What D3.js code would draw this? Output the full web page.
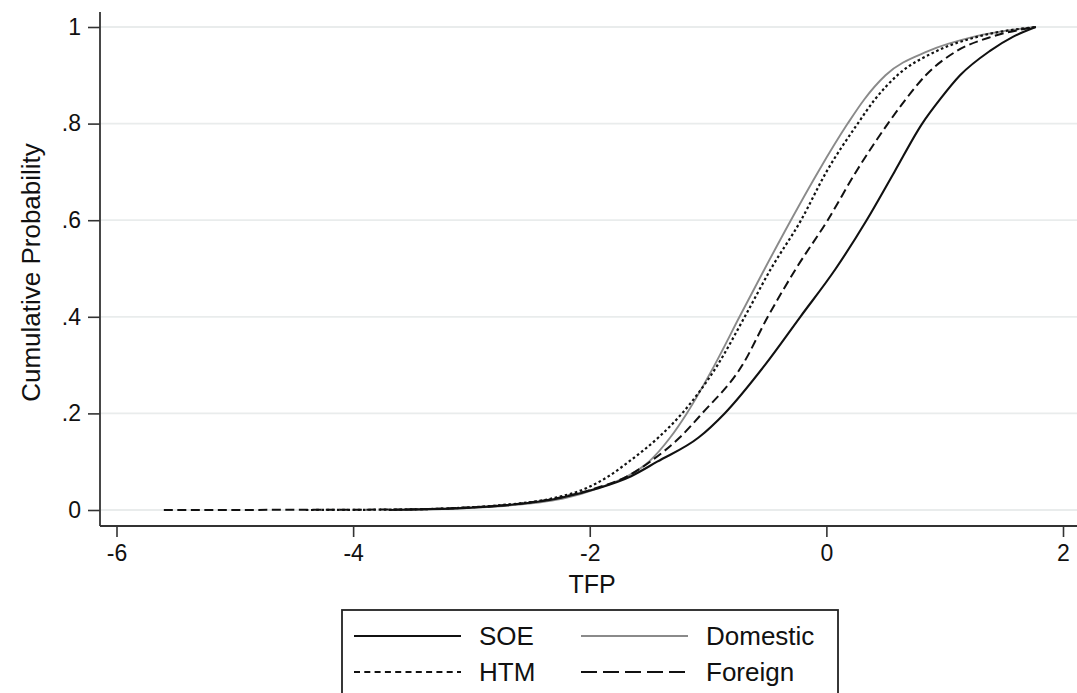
<!DOCTYPE html>
<html>
<head>
<meta charset="utf-8">
<script src="https://cdn.jsdelivr.net/npm/d3@7/dist/d3.min.js"></script>
<style>
  html, body { margin: 0; padding: 0; background: #fff; }
  svg { display: block; font-family: "Liberation Sans", Arial, sans-serif; }
</style>
</head>
<body>
<svg id="chart" width="1077" height="693"></svg>
<script>
// Shared cumulative-probability levels; each series lists its TFP quantile at each level.
const probLevels = [0, 0.001, 0.005, 0.01, 0.025, 0.045, 0.07, 0.1, 0.15, 0.2, 0.3, 0.4, 0.5, 0.6, 0.7, 0.8, 0.85, 0.9, 0.95, 0.98, 1];

const soeTFP      = [-3.7, -3.5, -3.0, -2.7, -2.25, -1.93, -1.65, -1.43, -1.08, -0.86, -0.52, -0.22, 0.08, 0.34, 0.575, 0.81, 0.96, 1.13, 1.38, 1.58, 1.77];
const domesticTFP = [-3.6, -3.45, -2.95, -2.65, -2.2, -1.93, -1.68, -1.50, -1.32, -1.18, -0.945, -0.734, -0.52, -0.30, -0.07, 0.18, 0.32, 0.50, 0.86, 1.25, 1.77];
const htmTFP      = [-4.4, -3.6, -3.05, -2.75, -2.3, -2.03, -1.84, -1.67, -1.42, -1.22, -0.92, -0.69, -0.467, -0.214, 0.0, 0.265, 0.41, 0.60, 0.93, 1.28, 1.77];
const foreignTFP  = [-5.6, -3.6, -3.05, -2.72, -2.27, -1.95, -1.68, -1.49, -1.24, -1.05, -0.71, -0.495, -0.256, 0.011, 0.25, 0.52, 0.67, 0.84, 1.10, 1.40, 1.77];

const xTicks = [-6, -4, -2, 0, 2];
const yTicks = [0, 0.2, 0.4, 0.6, 0.8, 1];
const yTickLabels = ['0', '.2', '.4', '.6', '.8', '1'];

// drawing order: back to front
const seriesList = [
  { name: 'Domestic', values: domesticTFP, color: '#8a8a8a', width: 1.9, dash: null,      keyDash: null },
  { name: 'Foreign',  values: foreignTFP,  color: '#111',    width: 2.0, dash: '9,4.5',   keyDash: '16,6' },
  { name: 'HTM',      values: htmTFP,      color: '#111',    width: 2.2, dash: '2.6,2.6', keyDash: '6,4.3' },
  { name: 'SOE',      values: soeTFP,      color: '#111',    width: 2.1, dash: null,      keyDash: null },
];
const legendOrder = ['SOE', 'Domestic', 'HTM', 'Foreign'];

// ── Layout ─────────────────────────────────────────────────────────────────
const plot = { left: 100, right: 1077, top: 12, bottom: 526 };
const axisColor = '#333';
const gridColor = '#e9ecec';
const fontFamily = '"Liberation Sans", Arial, sans-serif';

const svg = d3.select('#chart');

const x = d3.scaleLinear().domain([-6, 2]).range([116.5, 1063]);
const y = d3.scaleLinear().domain([0, 1]).range([510, 27]);

// Gridlines
svg.append('g')
  .selectAll('line')
  .data(yTicks)
  .join('line')
  .attr('x1', plot.left + 1).attr('x2', plot.right)
  .attr('y1', d => y(d)).attr('y2', d => y(d))
  .attr('stroke', gridColor).attr('stroke-width', 1.8);

// Y axis
const yAxis = svg.append('g')
  .attr('transform', `translate(${plot.left},0)`)
  .call(d3.axisLeft(y).tickValues(yTicks).tickSize(12).tickPadding(7)
    .tickFormat((d, i) => yTickLabels[i]));
yAxis.select('.domain').remove();
yAxis.selectAll('.tick line').attr('stroke', axisColor).attr('stroke-width', 1.6);
yAxis.selectAll('.tick text').attr('font-size', 23).attr('fill', '#111')
  .attr('font-family', fontFamily);
svg.append('line')
  .attr('x1', plot.left).attr('x2', plot.left)
  .attr('y1', plot.top).attr('y2', plot.bottom)
  .attr('stroke', axisColor).attr('stroke-width', 1.8);

// X axis
const xAxis = svg.append('g')
  .attr('transform', `translate(0,${plot.bottom})`)
  .call(d3.axisBottom(x).tickValues(xTicks).tickSize(11).tickPadding(8)
    .tickFormat(d3.format('d')));
xAxis.select('.domain').remove();
xAxis.selectAll('.tick line').attr('stroke', axisColor).attr('stroke-width', 1.6);
xAxis.selectAll('.tick text').attr('font-size', 23).attr('fill', '#111')
  .attr('font-family', fontFamily)
  .text(d => d < 0 ? '-' + Math.abs(d) : d);
svg.append('line')
  .attr('x1', plot.left).attr('x2', plot.right)
  .attr('y1', plot.bottom).attr('y2', plot.bottom)
  .attr('stroke', axisColor).attr('stroke-width', 1.8);

// Axis titles
svg.append('text')
  .attr('x', 592).attr('y', 593)
  .attr('text-anchor', 'middle').attr('font-size', 25).attr('fill', '#111')
  .text('TFP');
svg.append('text')
  .attr('transform', `translate(40,${(y(0) + y(1)) / 2 + 4}) rotate(-90)`)
  .attr('text-anchor', 'middle').attr('font-size', 26).attr('fill', '#111')
  .text('Cumulative Probability');

// Curves
const line = d3.line()
  .x(d => x(d[0]))
  .y(d => y(d[1]))
  .curve(d3.curveMonotoneX);

seriesList.forEach(s => {
  const pts = s.values.map((v, i) => [v, probLevels[i]]);
  svg.append('path')
    .datum(pts)
    .attr('fill', 'none')
    .attr('stroke', s.color)
    .attr('stroke-width', s.width)
    .attr('stroke-dasharray', s.dash)
    .attr('stroke-linejoin', 'round')
    .attr('d', line);
});

// Legend (box runs off the bottom edge, as in the original)
const legend = svg.append('g');
legend.append('rect')
  .attr('x', 342).attr('y', 610)
  .attr('width', 496).attr('height', 120)
  .attr('fill', '#fff').attr('stroke', '#222').attr('stroke-width', 1.8);

const legendCols = [354, 581];
const legendRows = [636, 672];
legendOrder.forEach((name, i) => {
  const s = seriesList.find(d => d.name === name);
  const lx = legendCols[i % 2];
  const ly = legendRows[Math.floor(i / 2)];
  legend.append('line')
    .attr('x1', lx).attr('x2', lx + 107)
    .attr('y1', ly).attr('y2', ly)
    .attr('stroke', s.color).attr('stroke-width', s.width)
    .attr('stroke-dasharray', s.keyDash);
  legend.append('text')
    .attr('x', lx + 125).attr('y', ly + 9)
    .attr('font-size', 26).attr('fill', '#111')
    .text(name);
});
</script>
</body>
</html>
